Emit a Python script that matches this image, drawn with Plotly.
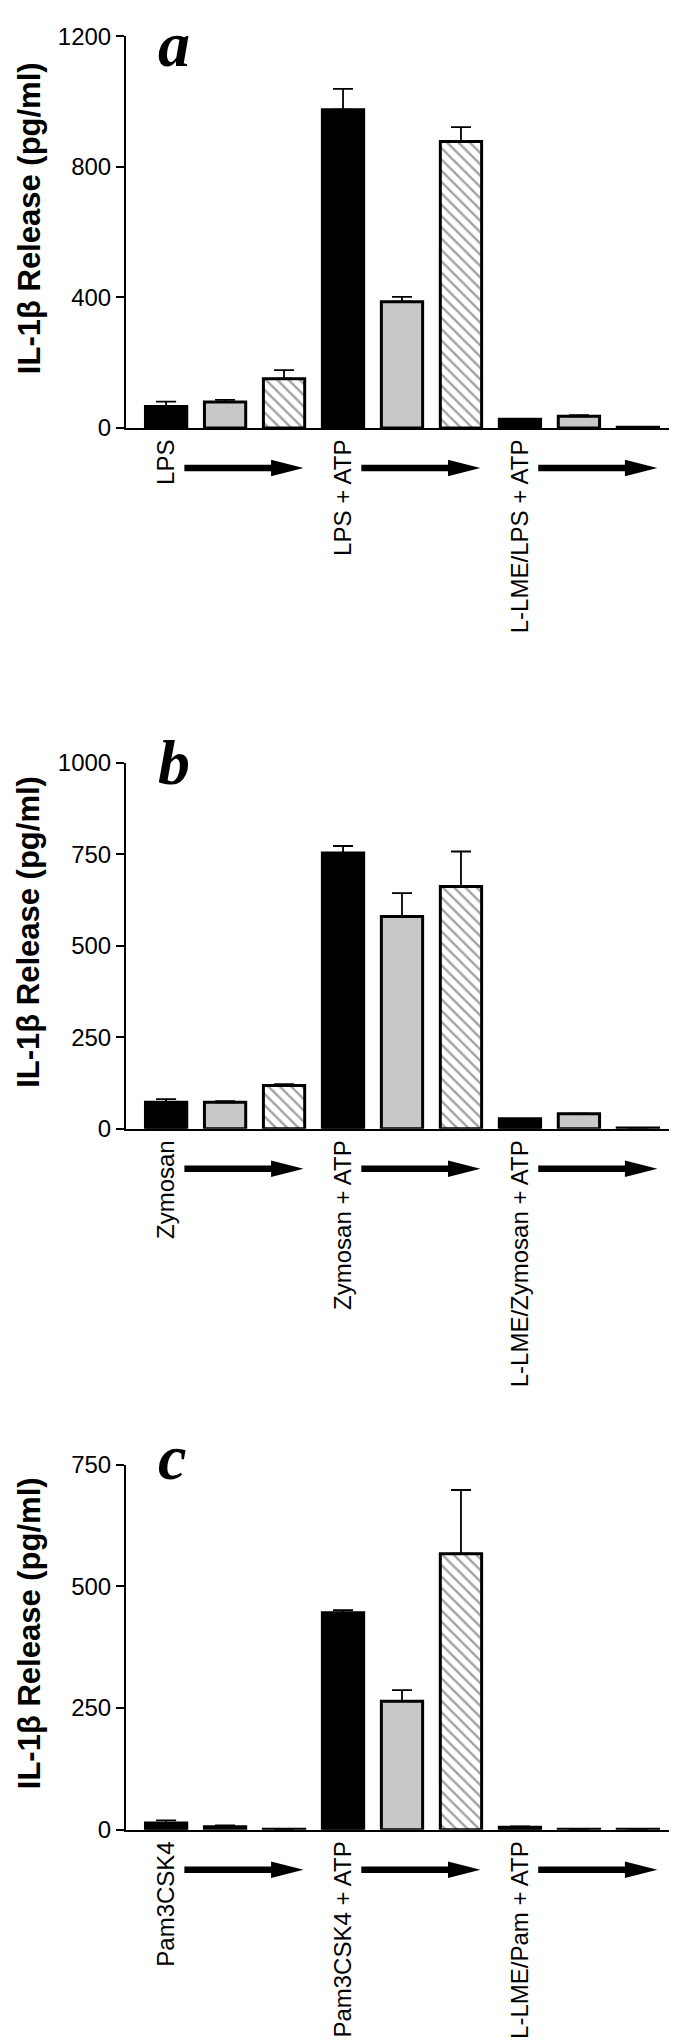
import plotly.graph_objects as go
from plotly.subplots import make_subplots

# three panels, 9 bars each: (black, grey, hatched) x 3 treatment groups
groups_a = ["LPS", "LPS + ATP", "L-LME/LPS + ATP"]
groups_b = ["Zymosan", "Zymosan + ATP", "L-LME/Zymosan + ATP"]
groups_c = ["Pam3CSK4", "Pam3CSK4 + ATP", "L-LME/Pam + ATP"]

vals_a = [66, 80, 151, 975, 387, 878, 27, 36, 2]
err_a = [15, 6, 26, 64, 15, 44, 0, 3, 0]
vals_b = [72, 72, 118, 754, 580, 662, 27, 41, 2]
err_b = [9, 3, 4, 19, 64, 96, 0, 0, 0]
vals_c = [14, 6, 1, 446, 264, 567, 5, 1, 1]
err_c = [5, 3, 0, 5, 23, 131, 2, 0, 0]

yticks_a = [0, 400, 800, 1200]
yticks_b = [0, 250, 500, 750, 1000]
yticks_c = [0, 250, 500, 750]

W, H = 677, 2043
FONT = "Liberation Sans, Arial, sans-serif"
LETTER_SIZE = 64

bar_colors = ["black", "#c8c8c8", "white"] * 3
bar_shapes = ["", "", "\\"] * 3

panels = [
    (groups_a, vals_a, err_a, yticks_a, "a"),
    (groups_b, vals_b, err_b, yticks_b, "b"),
    (groups_c, vals_c, err_c, yticks_c, "c"),
]

# pixel layout of each panel (top / bottom of the y axis), letter baselines
y_top = [28.3, 755.0, 1456.7]
y_bot = [420.0, 1120.7, 1821.7]
letter_base = [42, 777, 1472]
x_left, x_right = 118.0, 670.0

fig = make_subplots(rows=3, cols=1)

for i, (groups, vals, errs, yticks, letter) in enumerate(panels):
    r = i + 1
    xs = list(range(len(vals)))
    fig.add_trace(go.Bar(
        x=xs, y=vals, width=0.7,
        marker=dict(color=bar_colors, line=dict(color="black", width=3),
                    pattern=dict(shape=bar_shapes, fgcolor="black", bgcolor="white",
                                 size=8, solidity=0.3)),
        error_y=dict(type="data", symmetric=False, array=errs, arrayminus=[0] * len(errs),
                     color="black", thickness=1.8, width=10),
        showlegend=False,
    ), row=r, col=1)

    fig.update_xaxes(
        domain=[x_left / W, x_right / W], range=[-0.68, 8.68],
        showline=True, linecolor="black", linewidth=2, ticks="",
        tickvals=[0, 3, 6], ticktext=groups, tickangle=-90,
        tickfont=dict(family=FONT, size=24, color="black"),
        showgrid=False, zeroline=False, automargin=False,
        row=r, col=1)
    fig.update_yaxes(
        domain=[1 - y_bot[i] / H, 1 - y_top[i] / H], range=[0, yticks[-1]],
        tickvals=yticks, ticks="outside", ticklen=8, tickwidth=2, tickcolor="black",
        showline=True, linecolor="black", linewidth=2,
        tickfont=dict(family=FONT, size=24, color="black"),
        showgrid=False, zeroline=False, automargin=False,
        row=r, col=1)

    # y title
    fig.add_annotation(
        text="<b>IL-1β Release (pg/ml)</b>", textangle=-90, xref="paper", yref="paper",
        x=21 / W, y=1 - ((y_top[i] + y_bot[i]) / 2 - 14) / H,
        showarrow=False, font=dict(family=FONT, size=31, color="black"),
        xanchor="center", yanchor="middle")

    # panel letter (kept inside the page at the top)
    box_bottom = max(letter_base[i], 0.891 * LETTER_SIZE + 2) + 1 + 0.216 * LETTER_SIZE
    fig.add_annotation(
        text="<b><i>%s</i></b>" % letter, xref="paper", yref="paper",
        x=148 / W, y=1 - box_bottom / H, xanchor="left", yanchor="bottom",
        showarrow=False, font=dict(family="Liberation Serif, Times New Roman, serif",
                                    size=LETTER_SIZE, color="black"))

    # arrows under each group
    xref = "x" if r == 1 else "x%d" % r
    ya = 1 - (y_bot[i] + 40) / H
    h, hh = 3.3 / H, 8.3 / H
    for g in range(len(groups)):
        start = g * 3
        x0, xt = start + 0.31, start + 2.33
        xb = xt - 0.55
        path = ("M {0},{2} L {1},{2} L {1},{3} L {4},{5} L {1},{6} L {1},{7} L {0},{7} Z"
                .format(x0, xb, ya - h, ya - hh, xt, ya, ya + hh, ya + h))
        fig.add_shape(type="path", path=path, xref=xref, yref="paper",
                      fillcolor="black", line=dict(color="black", width=0))

fig.update_layout(
    width=W, height=H, margin=dict(l=0, r=0, t=0, b=0),
    paper_bgcolor="white", plot_bgcolor="white", bargap=0.3,
)

fig.write_html("out.html")
